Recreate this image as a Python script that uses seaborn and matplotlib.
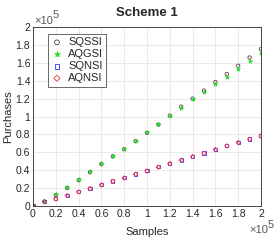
import matplotlib
matplotlib.use("Agg")
import matplotlib.pyplot as plt
import seaborn as sns
import pandas as pd
import numpy as np

samples = [0, 10000, 20000, 30000, 40000, 50000, 60000, 70000, 80000, 90000, 100000,
           110000, 120000, 130000, 140000, 150000, 160000, 170000, 180000, 190000, 200000]
sqssi = [0, 5000, 12000, 20000, 28700, 37600, 46600, 55500, 63500, 72500, 81800,
         91000, 101000, 111000, 120000, 129000, 138600, 147500, 156800, 166000, 175400]
aqgsi = [0, 5600, 13400, 21600, 30500, 38700, 47700, 55900, 64000, 73000, 82300,
         91300, 100600, 109800, 119200, 127000, 136000, 144000, 152700, 162000, 170600]
sqnsi = [0, 4800, 8200, 12000, 16000, 19800, 23800, 27900, 31600, 35700, 39400,
         43600, 47700, 51400, 55500, 59200, 63400, 67400, 71200, 74900, 78500]
aqnsi = [0, 4500, 7900, 11700, 15700, 19500, 23500, 27600, 31300, 35400, 39100,
         43300, 47400, 51100, 55200, 58900, 63100, 67100, 70900, 74600, 78200]
series_names = ["SQSSI", "AQGSI", "SQNSI", "AQNSI"]
x_ticks = [0, 20000, 40000, 60000, 80000, 100000, 120000, 140000, 160000, 180000, 200000]
tick_labels = ["0", "0.2", "0.4", "0.6", "0.8", "1", "1.2", "1.4", "1.6", "1.8", "2"]

sns.set_style("white")
plt.rcParams['font.family'] = ['Liberation Sans', 'DejaVu Sans']

fig = plt.figure(figsize=(2.75, 2.4), dpi=100)
ax = fig.add_axes([0.12, 0.142, 0.829, 0.745])

styles = {
    "SQSSI": dict(marker="o", facecolors="none", edgecolors="#444444", s=6, linewidths=0.6),
    "AQGSI": dict(marker="*", color="#22dd22", s=10, linewidths=0.4, edgecolors="#22dd22"),
    "SQNSI": dict(marker="s", facecolors="none", edgecolors="#3333ff", s=5, linewidths=0.6),
    "AQNSI": dict(marker="D", facecolors="none", edgecolors="#ff3344", s=5, linewidths=0.6),
}
data = {"SQSSI": sqssi, "AQGSI": aqgsi, "SQNSI": sqnsi, "AQNSI": aqnsi}
for name in series_names:
    df = pd.DataFrame({"Samples": samples, "Purchases": data[name]})
    sns.scatterplot(data=df, x="Samples", y="Purchases", ax=ax, label=name, **styles[name])

ax.set_xlim(0, 200000)
ax.set_ylim(0, 200000)
ax.set_xticks(x_ticks)
ax.set_xticklabels(tick_labels)
ax.set_yticks(x_ticks)
ax.set_yticklabels(tick_labels)
ax.tick_params(labelsize=7.5, length=2, direction="in", pad=2, colors="#262626")
ax.grid(True, color="#e6e6e6", linewidth=0.6)
ax.set_axisbelow(True)
for sp in ax.spines.values():
    sp.set_color("#262626")
    sp.set_linewidth(0.6)
ax.set_xlabel("Samples", fontsize=8, labelpad=6, color="#262626")
ax.set_ylabel("Purchases", fontsize=8, labelpad=2, color="#262626")
ax.set_title("Scheme 1", fontsize=9.5, fontweight="bold", pad=8)

off_col = "#555555"
ax.text(0.004, 1.017, "×10", transform=ax.transAxes, fontsize=8, ha="left", va="baseline", color=off_col)
ax.text(0.088, 1.05, "5", transform=ax.transAxes, fontsize=8, ha="left", va="baseline", color=off_col)
ax.text(1.031, -0.151, "×10", transform=ax.transAxes, fontsize=8, ha="right", va="baseline", color=off_col)
ax.text(1.031, -0.123, "5", transform=ax.transAxes, fontsize=8, ha="left", va="baseline", color=off_col)

leg = ax.legend(loc="upper left", bbox_to_anchor=(0.066, 0.962), borderaxespad=0, fontsize=8,
                frameon=True, fancybox=False, edgecolor="#262626", handletextpad=0.5, borderpad=0.3,
                labelspacing=0.18, handlelength=1.0, markerscale=1.4)
leg.get_frame().set_linewidth(0.6)

fig.savefig("out.png", dpi=100)
